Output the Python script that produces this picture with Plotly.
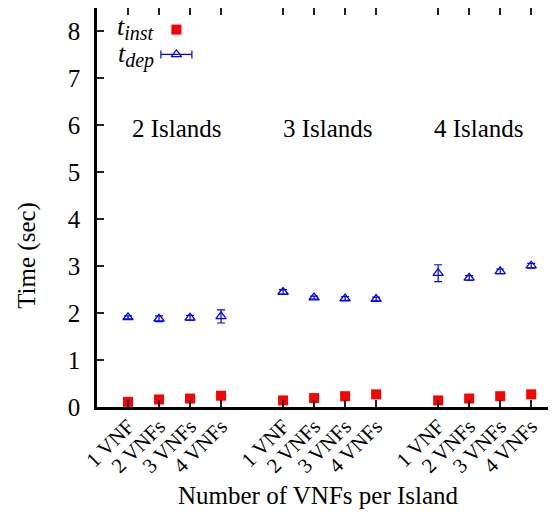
import plotly.graph_objects as go

# ---- data ----
vnf_labels = ["1 VNF", "2 VNFs", "3 VNFs", "4 VNFs"] * 3
x_pos = [1, 2, 3, 4, 6, 7, 8, 9, 11, 12, 13, 14]
t_inst = [0.11, 0.16, 0.18, 0.24, 0.14, 0.19, 0.23, 0.27, 0.14, 0.18, 0.23, 0.27]
t_dep = [1.91, 1.88, 1.90, 1.93, 2.45, 2.33, 2.31, 2.30, 2.85, 2.75, 2.89, 3.01]
t_dep_err = [0.03, 0.06, 0.05, 0.14, 0.05, 0.03, 0.04, 0.04, 0.18, 0.05, 0.05, 0.05]
group_labels = ["2 Islands", "3 Islands", "4 Islands"]
group_label_x = [2.57, 7.44, 12.33]
group_label_y = 5.94

FONT = "Liberation Serif"
FS = 25
RED = "#ff0000"
BLUE = "#0000ff"

fig = go.Figure()

fig.add_trace(go.Scatter(
    x=x_pos, y=t_dep, mode="markers", name="t_dep",
    marker=dict(symbol="triangle-up-open", size=9, color=BLUE, line=dict(width=1.3, color=BLUE)),
    error_y=dict(type="data", array=t_dep_err, visible=True, color=BLUE, thickness=1.2, width=4),
    showlegend=False,
))
fig.add_trace(go.Scatter(
    x=x_pos, y=t_inst, mode="markers", name="t_inst",
    marker=dict(symbol="square", size=10, color=RED, line=dict(width=0)),
    showlegend=False,
))

# ---- legend keys (gnuplot style: text then symbol) ----
LEG_X = 2.56
LEG_Y1 = 8.04
LEG_Y2 = 7.51
fig.add_trace(go.Scatter(
    x=[LEG_X], y=[LEG_Y1], mode="markers", showlegend=False, hoverinfo="skip",
    marker=dict(symbol="square", size=10, color=RED),
))
fig.add_trace(go.Scatter(
    x=[LEG_X], y=[LEG_Y2], mode="markers", showlegend=False, hoverinfo="skip",
    marker=dict(symbol="triangle-up-open", size=9, color=BLUE, line=dict(width=1.3, color=BLUE)),
    error_x=dict(type="constant", value=0.5, visible=True, color=BLUE, thickness=1.2, width=4),
))

SUB = "<span style='font-size:20px'><i>{}</i></span>"
annotations = [
    dict(x=1.9, y=LEG_Y1 + 0.03, xref="x", yref="y", text="<i>t</i><sub>" + SUB.format("inst") + "</sub>",
         showarrow=False, xanchor="right", yanchor="middle", font=dict(family=FONT, size=26, color="black")),
    dict(x=1.9, y=LEG_Y2 - 0.03, xref="x", yref="y", text="<i>t</i><sub>" + SUB.format("dep") + "</sub>",
         showarrow=False, xanchor="right", yanchor="middle", font=dict(family=FONT, size=26, color="black")),
    dict(x=0.482, y=-0.223, xref="paper", yref="paper", text="Number of VNFs per Island",
         showarrow=False, xanchor="center", yanchor="middle", font=dict(family=FONT, size=FS, color="black")),
    dict(x=-0.1525, y=0.379, xref="paper", yref="paper", text="Time (sec)", textangle=-90,
         showarrow=False, xanchor="center", yanchor="middle", font=dict(family=FONT, size=FS, color="black")),
]
for gx, gl in zip(group_label_x, group_labels):
    annotations.append(dict(x=gx, y=group_label_y, xref="x", yref="y", text=gl, showarrow=False,
                            xanchor="center", yanchor="middle",
                            font=dict(family=FONT, size=FS, color="black")))

# page body has an 8px default margin, so the figure is sized to fit the remaining window
fig.update_layout(
    width=548, height=510,
    margin=dict(l=89, r=0, t=0, b=111),
    paper_bgcolor="white", plot_bgcolor="white",
    font=dict(family=FONT, size=FS, color="black"),
    annotations=annotations,
    xaxis=dict(
        range=[0, 14.8], tickvals=x_pos, ticktext=vnf_labels, tickangle=-45,
        ticks="inside", ticklen=7, tickwidth=1.5, tickcolor="#222",
        showline=True, linewidth=2.5, linecolor="black", mirror="ticks",
        showgrid=False, zeroline=False, automargin=False, ticklabelstandoff=-4,
        tickfont=dict(family=FONT, size=21, color="black"),
    ),
    yaxis=dict(
        range=[0, 8.5], dtick=1, ticks="inside", ticklen=7, tickwidth=1.5, tickcolor="#222",
        showline=True, linewidth=2.5, linecolor="black", mirror=False,
        showgrid=False, zeroline=False, ticklabelstandoff=9, automargin=False,
        tickfont=dict(family=FONT, size=25, color="black"),
    ),
)

fig.write_html("out.html")
